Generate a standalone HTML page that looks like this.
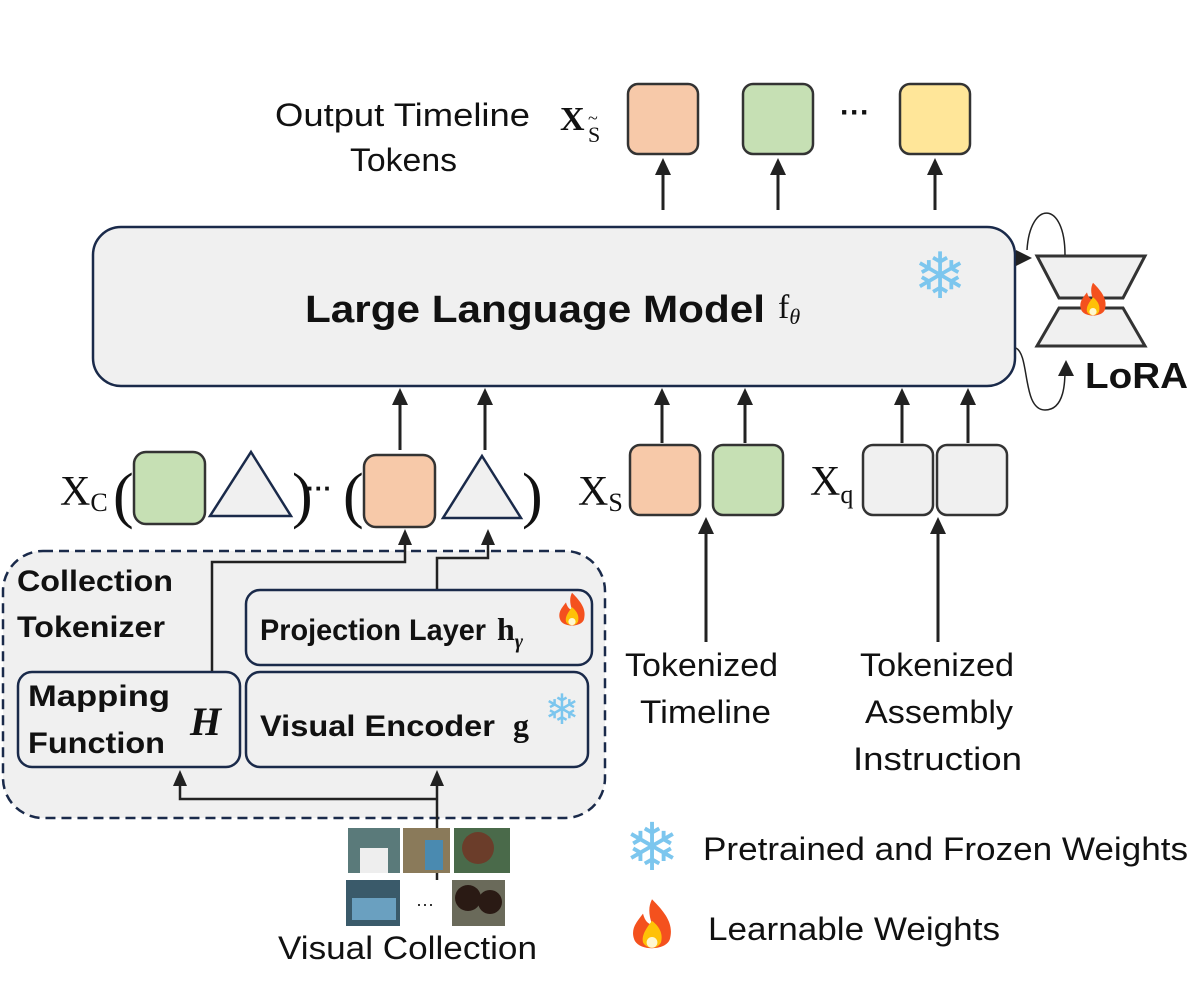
<!DOCTYPE html>
<html><head><meta charset="utf-8"><style>
body{margin:0;background:#fff;}
svg{display:block;font-family:"Liberation Sans",sans-serif;}
.s{font-family:"Liberation Serif",serif;}
</style></head><body>
<svg width="1200" height="1000" viewBox="0 0 1200 1000" xmlns="http://www.w3.org/2000/svg">
<defs>
<g id="fire">
<path d="M0,-16 C8,-8 12,-2 10,6 C8,13 -8,13 -10,6 C-12,0 -8,-4 -5,-8 C-4,-4 -2,-2 0,-2 C-2,-8 -2,-12 0,-16Z" fill="#f4511e"/>
<path d="M0,-4 C5,0 6,4 5,8 C3,12 -3,12 -5,8 C-6,4 -3,0 0,-4Z" fill="#ffc107"/>
<ellipse cx="0" cy="8" rx="3" ry="3" fill="#fff8d0"/>
</g>
</defs>
<style>.ar{fill:#222}</style>

<!-- Output tokens -->
<text x="275" y="126" font-size="32" textLength="255" lengthAdjust="spacingAndGlyphs" fill="#111">Output Timeline</text>
<text x="350" y="171" font-size="32" textLength="107" lengthAdjust="spacingAndGlyphs" fill="#111">Tokens</text>
<text x="560" y="130" class="s" font-size="34" font-weight="bold" fill="#111">X</text>
<text x="588" y="142" class="s" font-size="22" fill="#111">S</text>
<text x="588" y="124" class="s" font-size="18" fill="#111">~</text>
<rect x="628" y="84" width="70" height="70" rx="10" fill="#f7c9a9" stroke="#333" stroke-width="2.5"/>
<rect x="743" y="84" width="70" height="70" rx="10" fill="#c6e0b4" stroke="#333" stroke-width="2.5"/>
<text x="855" y="122" font-size="30" font-weight="bold" text-anchor="middle" fill="#111">···</text>
<rect x="900" y="84" width="70" height="70" rx="10" fill="#ffe699" stroke="#333" stroke-width="2.5"/>
<g stroke="#222" stroke-width="3">
<line x1="663" y1="210" x2="663" y2="172"/><line x1="778" y1="210" x2="778" y2="172"/><line x1="935" y1="210" x2="935" y2="172"/>
</g>
<g class="ar">
<polygon points="663,158 655,175 671,175"/><polygon points="778,158 770,175 786,175"/><polygon points="935,158 927,175 943,175"/>
</g>

<!-- LLM -->
<rect x="93" y="227" width="922" height="159" rx="28" fill="#f0f0f0" stroke="#1a2a4a" stroke-width="2.5"/>
<text x="305" y="322" font-size="38" font-weight="bold" textLength="460" lengthAdjust="spacingAndGlyphs" fill="#111">Large Language Model</text>
<text x="778" y="318" class="s" font-size="34" fill="#111">f<tspan font-size="22" font-style="italic" dy="6">θ</tspan></text>
<text x="940" y="298" font-size="64" text-anchor="middle" fill="#7cc6ee">❄</text>

<!-- LoRA -->
<polygon points="1037,256 1145,256 1123,298 1059,298" fill="#f0f0f0" stroke="#333" stroke-width="3"/>
<polygon points="1059,308 1123,308 1145,346 1037,346" fill="#f0f0f0" stroke="#333" stroke-width="3"/>
<use href="#fire" transform="translate(1093,302) scale(1.2)"/>
<text x="1085" y="388" font-size="36" font-weight="bold" textLength="103" lengthAdjust="spacingAndGlyphs" fill="#111">LoRA</text>
<path d="M1065,255 C1065,200 1030,200 1027,250" fill="none" stroke="#222" stroke-width="1.5"/>
<polygon points="1032,258 1016,250 1016,266" fill="#222"/>
<path d="M1016,348 C1030,355 1022,410 1045,410 C1065,410 1065,380 1065,370" fill="none" stroke="#222" stroke-width="1.5"/>
<polygon points="1066,360 1058,376 1074,376" fill="#222"/>

<!-- arrows into LLM -->
<g stroke="#222" stroke-width="3">
<line x1="400" y1="450" x2="400" y2="402"/><line x1="485" y1="450" x2="485" y2="402"/>
<line x1="662" y1="443" x2="662" y2="402"/><line x1="745" y1="443" x2="745" y2="402"/>
<line x1="902" y1="443" x2="902" y2="402"/><line x1="968" y1="443" x2="968" y2="402"/>
</g>
<g class="ar">
<polygon points="400,388 392,405 408,405"/><polygon points="485,388 477,405 493,405"/>
<polygon points="662,388 654,405 670,405"/><polygon points="745,388 737,405 753,405"/>
<polygon points="902,388 894,405 910,405"/><polygon points="968,388 960,405 976,405"/>
</g>

<!-- Xc -->
<text x="60" y="505" class="s" font-size="42" fill="#111">X<tspan font-size="26" dy="6">C</tspan></text>
<text x="113" y="516" class="s" font-size="62" fill="#111">(</text>
<rect x="134" y="452" width="71" height="72" rx="12" fill="#c6e0b4" stroke="#333" stroke-width="2.5"/>
<polygon points="251,452 291,516 210,516" fill="#f0f0f0" stroke="#1a2a4a" stroke-width="2.5"/>
<text x="292" y="516" class="s" font-size="62" fill="#111">)</text>
<text x="306" y="497" font-size="26" font-weight="bold" fill="#111">···</text>
<text x="343" y="516" class="s" font-size="62" fill="#111">(</text>
<rect x="364" y="455" width="71" height="72" rx="12" fill="#f7c9a9" stroke="#333" stroke-width="2.5"/>
<polygon points="482,456 521,518 443,518" fill="#f0f0f0" stroke="#1a2a4a" stroke-width="2.5"/>
<text x="522" y="516" class="s" font-size="62" fill="#111">)</text>

<!-- Xs -->
<text x="578" y="505" class="s" font-size="42" fill="#111">X<tspan font-size="26" dy="6">S</tspan></text>
<rect x="630" y="445" width="70" height="70" rx="10" fill="#f7c9a9" stroke="#333" stroke-width="2.5"/>
<rect x="713" y="445" width="70" height="70" rx="10" fill="#c6e0b4" stroke="#333" stroke-width="2.5"/>
<!-- Xq -->
<text x="810" y="495" class="s" font-size="42" fill="#111">X<tspan font-size="26" dy="8">q</tspan></text>
<rect x="863" y="445" width="70" height="70" rx="10" fill="#f0f0f0" stroke="#333" stroke-width="2.5"/>
<rect x="937" y="445" width="70" height="70" rx="10" fill="#f0f0f0" stroke="#333" stroke-width="2.5"/>

<g stroke="#222" stroke-width="3">
<line x1="706" y1="642" x2="706" y2="532"/><line x1="938" y1="642" x2="938" y2="532"/>
</g>
<g class="ar"><polygon points="706,517 698,534 714,534"/><polygon points="938,517 930,534 946,534"/></g>
<g font-size="32" fill="#111" lengthAdjust="spacingAndGlyphs">
<text x="625" y="676" textLength="153" lengthAdjust="spacingAndGlyphs">Tokenized</text>
<text x="640" y="723" textLength="131" lengthAdjust="spacingAndGlyphs">Timeline</text>
<text x="860" y="676" textLength="154" lengthAdjust="spacingAndGlyphs">Tokenized</text>
<text x="865" y="723" textLength="148" lengthAdjust="spacingAndGlyphs">Assembly</text>
<text x="853" y="770" textLength="169" lengthAdjust="spacingAndGlyphs">Instruction</text>
</g>

<!-- Collection tokenizer -->
<rect x="3" y="551" width="602" height="267" rx="40" fill="#f0f0f0" stroke="#1a2a4a" stroke-width="2.5" stroke-dasharray="10,6"/>
<text x="17" y="591" font-size="30" font-weight="bold" textLength="156" lengthAdjust="spacingAndGlyphs" fill="#111">Collection</text>
<text x="17" y="637" font-size="30" font-weight="bold" textLength="148" lengthAdjust="spacingAndGlyphs" fill="#111">Tokenizer</text>
<rect x="246" y="590" width="346" height="75" rx="14" fill="#f0f0f0" stroke="#1a2a4a" stroke-width="2.5"/>
<text x="260" y="640" font-size="30" font-weight="bold" textLength="226" lengthAdjust="spacingAndGlyphs" fill="#111">Projection Layer</text>
<text x="497" y="640" class="s" font-size="32" font-weight="bold" fill="#111">h<tspan font-size="20" font-style="italic" dy="8">γ</tspan></text>
<use href="#fire" transform="translate(572,612) scale(1.2)"/>
<rect x="246" y="672" width="342" height="95" rx="14" fill="#f0f0f0" stroke="#1a2a4a" stroke-width="2.5"/>
<text x="260" y="736" font-size="30" font-weight="bold" textLength="235" lengthAdjust="spacingAndGlyphs" fill="#111">Visual Encoder</text>
<text x="513" y="736" class="s" font-size="32" font-weight="bold" fill="#111">g</text>
<text x="562" y="724" font-size="42" text-anchor="middle" fill="#7cc6ee">❄</text>
<rect x="18" y="672" width="222" height="95" rx="14" fill="#f0f0f0" stroke="#1a2a4a" stroke-width="2.5"/>
<text x="28" y="706" font-size="30" font-weight="bold" textLength="142" lengthAdjust="spacingAndGlyphs" fill="#111">Mapping</text>
<text x="28" y="753" font-size="30" font-weight="bold" textLength="137" lengthAdjust="spacingAndGlyphs" fill="#111">Function</text>
<text x="190" y="735" class="s" font-size="40" font-weight="bold" font-style="italic" fill="#111">H</text>

<g stroke="#222" stroke-width="2.5" fill="none">
<polyline points="212,671 212,562 405,562 405,542"/>
<polyline points="437,589 437,558 488,558 488,542"/>
<polyline points="437,880 437,784"/>
<polyline points="437,799 180,799 180,784"/>
</g>
<g class="ar">
<polygon points="405,529 398,545 412,545"/><polygon points="488,529 481,545 495,545"/>
<polygon points="437,770 430,786 444,786"/><polygon points="180,770 173,786 187,786"/>
</g>

<!-- images -->
<rect x="348" y="828" width="52" height="45" fill="#5a7a7a"/><rect x="360" y="848" width="28" height="25" fill="#eee"/>
<rect x="403" y="828" width="47" height="45" fill="#8a7a5a"/><rect x="425" y="840" width="18" height="30" fill="#4a8ab0"/>
<rect x="454" y="828" width="56" height="45" fill="#4a6a4a"/><circle cx="478" cy="848" r="16" fill="#6b3d2a"/>
<rect x="346" y="880" width="54" height="46" fill="#3a5a6a"/><rect x="352" y="898" width="44" height="22" fill="#6aa0c0"/>
<text x="425" y="910" font-size="18" text-anchor="middle" fill="#111">···</text>
<rect x="452" y="880" width="53" height="46" fill="#6a6a5a"/><circle cx="468" cy="898" r="13" fill="#2a1a14"/><circle cx="490" cy="902" r="12" fill="#2a1a14"/>
<text x="278" y="959" font-size="32" textLength="259" lengthAdjust="spacingAndGlyphs" fill="#111">Visual Collection</text>

<!-- legend -->
<text x="652" y="870" font-size="66" text-anchor="middle" fill="#7cc6ee">❄</text>
<text x="703" y="860" font-size="32" textLength="485" lengthAdjust="spacingAndGlyphs" fill="#111">Pretrained and Frozen Weights</text>
<use href="#fire" transform="translate(652,928) scale(1.8)"/>
<text x="708" y="940" font-size="32" textLength="292" lengthAdjust="spacingAndGlyphs" fill="#111">Learnable Weights</text>
</svg>
</body></html>
